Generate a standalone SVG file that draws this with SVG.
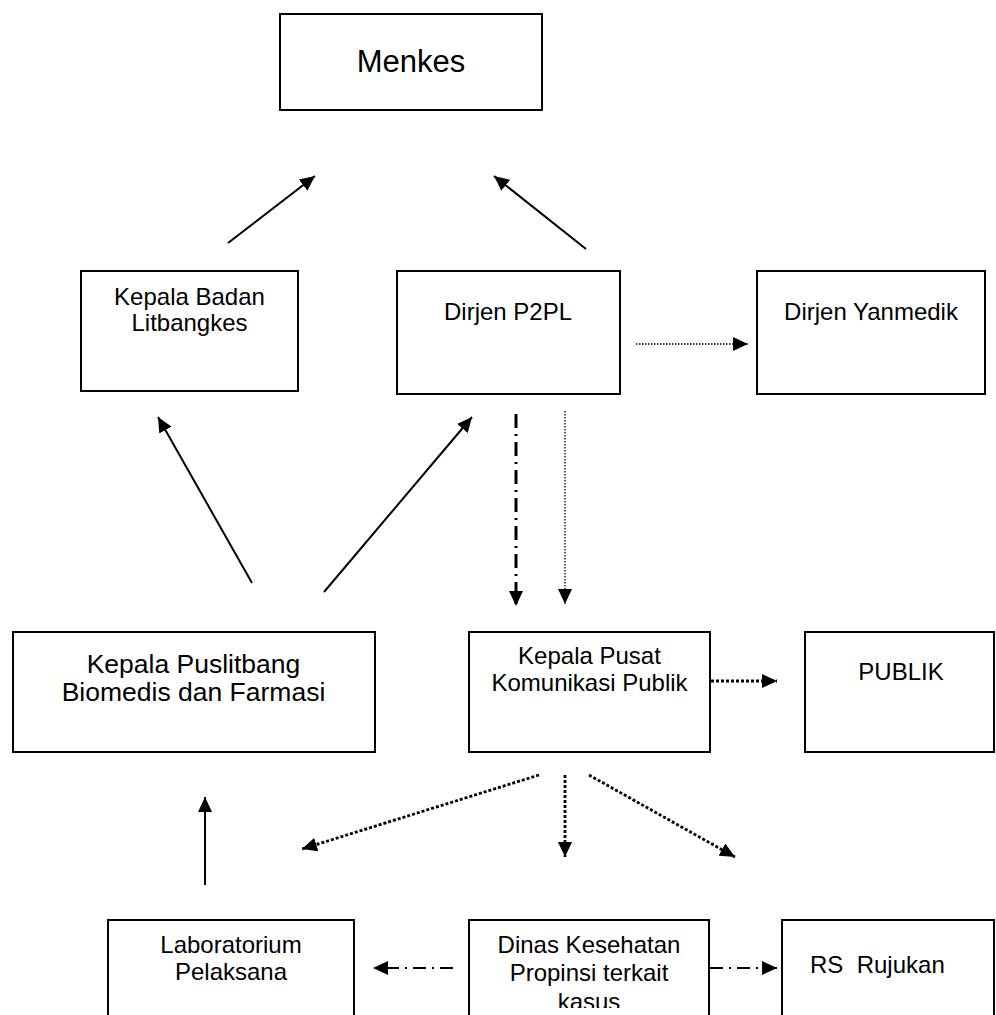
<svg xmlns="http://www.w3.org/2000/svg" width="996" height="1015" viewBox="0 0 996 1015">
<style>
.box{fill:#fff;stroke:#000;stroke-width:2}
.t{font-family:"Liberation Sans",Arial,sans-serif;font-size:24px;fill:#000;text-anchor:middle}
.solid{fill:none;stroke:#000;stroke-width:2}
.dotthin{fill:none;stroke:#000;stroke-width:1.3;stroke-dasharray:1.5 1.5}
.dotthick{fill:none;stroke:#000;stroke-width:2.8;stroke-dasharray:3 2}
.dashdot{fill:none;stroke:#000;stroke-width:3;stroke-dasharray:14 6 2 6}
.dashdot2{fill:none;stroke:#000;stroke-width:1.8;stroke-dasharray:13 6 2 6}
</style>
<defs>
<marker id="ah" markerUnits="userSpaceOnUse" markerWidth="16" markerHeight="14" refX="15" refY="7" orient="auto">
<path d="M0,0 L15,7 L0,14 z" fill="#000"/>
</marker>
<clipPath id="clipDinas"><rect x="460" y="900" width="260" height="108"/></clipPath>
</defs>
<rect width="996" height="1015" fill="#fff"/>

<g id="node-menkes">
<rect class="box" x="280" y="14" width="262" height="96"/>
<text class="t" x="411" y="72" style="font-size:31px">Menkes</text>
</g>
<g id="node-kepala-badan">
<rect class="box" x="81" y="271" width="217" height="120"/>
<text class="t" x="189.5" y="305">Kepala Badan</text>
<text class="t" x="189.5" y="331">Litbangkes</text>
</g>
<g id="node-dirjen-p2pl">
<rect class="box" x="397" y="271" width="223" height="123"/>
<text class="t" x="508" y="320">Dirjen P2PL</text>
</g>
<g id="node-dirjen-yanmedik">
<rect class="box" x="757" y="271" width="228" height="123"/>
<text class="t" x="871" y="320">Dirjen Yanmedik</text>
</g>
<g id="node-puslitbang">
<rect class="box" x="13" y="632" width="362" height="120"/>
<text class="t" x="193.5" y="673" style="font-size:26.5px">Kepala Puslitbang</text>
<text class="t" x="193.5" y="701" style="font-size:26.5px">Biomedis dan Farmasi</text>
</g>
<g id="node-pusat-komunikasi">
<rect class="box" x="469" y="632" width="241" height="120"/>
<text class="t" x="589.5" y="664">Kepala Pusat</text>
<text class="t" x="589.5" y="691">Komunikasi Publik</text>
</g>
<g id="node-publik">
<rect class="box" x="805" y="632" width="189" height="120"/>
<text class="t" x="901" y="680">PUBLIK</text>
</g>
<g id="node-laboratorium">
<rect class="box" x="108" y="920" width="246" height="110"/>
<text class="t" x="231" y="953">Laboratorium</text>
<text class="t" x="231" y="980">Pelaksana</text>
</g>
<g id="node-dinas">
<rect class="box" x="469" y="920" width="240" height="110"/>
<g clip-path="url(#clipDinas)">
<text class="t" x="589" y="953">Dinas Kesehatan</text>
<text class="t" x="589" y="981">Propinsi terkait</text>
<text class="t" x="589" y="1010">kasus</text>
</g>
</g>
<g id="node-rs-rujukan">
<rect class="box" x="782" y="920" width="212" height="110"/>
<text class="t" x="810" y="973" style="text-anchor:start;white-space:pre" xml:space="preserve">RS  Rujukan</text>
</g>

<g id="connectors">
<line class="solid" x1="228" y1="243" x2="315" y2="176" marker-end="url(#ah)"/>
<line class="solid" x1="586" y1="249" x2="494" y2="176" marker-end="url(#ah)"/>
<line class="solid" x1="252" y1="583" x2="158" y2="417" marker-end="url(#ah)"/>
<line class="solid" x1="324" y1="592" x2="472" y2="417" marker-end="url(#ah)"/>
<line class="dotthin" x1="636" y1="344" x2="748" y2="344" marker-end="url(#ah)"/>
<line class="dashdot" x1="516" y1="414" x2="516" y2="606" marker-end="url(#ah)"/>
<line class="dotthin" x1="565" y1="411" x2="565" y2="604" marker-end="url(#ah)"/>
<line class="dotthick" x1="711" y1="681" x2="777" y2="681" marker-end="url(#ah)"/>
<line class="dotthick" x1="539" y1="775" x2="302" y2="849" marker-end="url(#ah)"/>
<line class="dotthick" x1="565" y1="775" x2="565" y2="857" marker-end="url(#ah)"/>
<line class="dotthick" x1="589" y1="775" x2="735" y2="857" marker-end="url(#ah)"/>
<line class="solid" x1="205" y1="885" x2="205" y2="797" marker-end="url(#ah)"/>
<line class="dashdot2" x1="453" y1="968" x2="373" y2="968" marker-end="url(#ah)"/>
<line class="dashdot2" x1="710" y1="968" x2="777" y2="968" marker-end="url(#ah)"/>
</g>
</svg>
